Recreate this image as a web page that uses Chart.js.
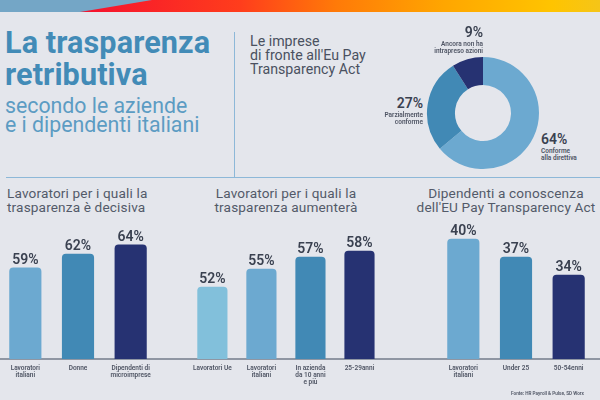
<!DOCTYPE html>
<html lang="it">
<head>
<meta charset="utf-8">
<title>La trasparenza retributiva</title>
<script src="https://cdn.jsdelivr.net/npm/chart.js@4"></script>
<style>
html, body { margin: 0; padding: 0; }
body { width: 600px; height: 400px; position: relative; overflow: hidden; background: #e4e6ec; font-family: Roboto, sans-serif; }
body > * { position: absolute; }
canvas { display: block; }
.banda { left: 0; top: 0; width: 600px; height: 12px; background: linear-gradient(90deg, #f5102f 13%, #ff3d1c 40%, #ff7a08 56%, #ffa600 74%, #ffc400 92%, #f5c518 100%); }
.bandaBlu { left: 0; top: 0; width: 152px; height: 12px; background: #74a6c6; clip-path: polygon(0 0, 100% 0, 80px 100%, 0 100%); }
.titolo { left: 5px; top: 27px; font-size: 30.6px; line-height: 32px; font-weight: 700; color: #428bb7; letter-spacing: .1px; white-space: nowrap; }
.sottotitolo { left: 5px; top: 97px; font-size: 21.3px; line-height: 18.5px; color: #5c9cc3; white-space: nowrap; }
.vert { left: 234px; top: 32px; width: 1px; height: 145px; background: #8db8d8; }
.oriz { left: 6px; top: 177px; width: 594px; height: 1px; background: #8db8d8; }
.base { left: 0; top: 358px; width: 600px; height: 2px; background: #8f96a3; }
.intro { left: 250px; top: 34px; font-size: 14.2px; line-height: 14px; color: #4a5160; white-space: nowrap; }
.testata { top: 186px; font-size: 13.6px; line-height: 14.4px; color: #535a69; letter-spacing: .15px; white-space: nowrap; }
.perc { font-size: 14px; line-height: 14px; font-weight: 600; color: #3a4150; white-space: nowrap; }
.desc { font-size: 6.5px; line-height: 7px; font-weight: 600; color: #4f5564; white-space: nowrap; }
.fonte { left: 511px; top: 390px; font-size: 4.65px; line-height: 7px; font-weight: 600; color: #4f5564; white-space: nowrap; }
</style>
</head>
<body>
<div class="banda"></div>
<div class="bandaBlu"></div>

<div class="titolo">La trasparenza<br>retributiva</div>
<div class="sottotitolo">secondo le aziende<br>e i dipendenti italiani</div>
<div class="vert"></div>
<div class="oriz"></div>
<div class="intro">Le imprese<br>di fronte all'Eu Pay<br>Transparency Act</div>

<canvas id="ciambella" width="116" height="116" style="left:425px;top:54.5px"></canvas>
<div class="perc" id="perc0" style="left:541px;top:132px"></div>
<div class="desc" style="left:541px;top:148px">Conforme<br>alla direttiva</div>
<div class="perc" id="perc1" style="right:177px;top:96px"></div>
<div class="desc" style="right:177px;top:112px;text-align:right">Parzialmente<br>conforme</div>
<div class="perc" id="perc2" style="right:117px;top:25px"></div>
<div class="desc" style="right:117px;top:41px;text-align:right">Ancora non ha<br>intrapreso azioni</div>

<div class="testata" style="left:7px">Lavoratori per i quali la<br>trasparenza è decisiva</div>
<div class="testata" style="left:186px;width:200px;text-align:center">Lavoratori per i quali la<br>trasparenza aumenterà</div>
<div class="testata" style="left:406px;width:200px;text-align:center">Dipendenti a conoscenza<br>dell'EU Pay Transparency Act</div>

<div class="base"></div>
<canvas id="barre1" width="158" height="210" style="left:-1px;top:190px"></canvas>
<canvas id="barre2" width="197" height="210" style="left:186.5px;top:190px"></canvas>
<canvas id="barre3" width="158" height="210" style="left:436.5px;top:190px"></canvas>

<div class="fonte">Fonte: HR Payroll &amp; Pulse, SD Worx</div>

<script>
// Dati
const impreseValori = [64, 27, 9];
const impreseEtichette = ['Conforme alla direttiva', 'Parzialmente conforme', 'Ancora non ha intrapreso azioni'];

const decisivaCategorie = [['Lavoratori', 'italiani'], 'Donne', ['Dipendenti di', 'microimprese']];
const decisivaValori = [59, 62, 64];

const aumenteraCategorie = ['Lavoratori Ue', ['Lavoratori', 'italiani'], ['In azienda', 'da 10 anni', 'e più'], '25-29anni'];
const aumenteraValori = [52, 55, 57, 58];

const conoscenzaCategorie = [['Lavoratori', 'italiani'], 'Under 25', '50-54enni'];
const conoscenzaValori = [40, 37, 34];

const azzurroChiaro = '#82c0db';
const azzurro = '#6ca9d0';
const blu = '#4189b5';
const bluScuro = '#263272';

// Scrive la percentuale sopra ogni barra
const etichettePercentuali = {
    id: 'etichettePercentuali',
    afterDatasetsDraw(chart) {
        const ctx = chart.ctx;
        ctx.save();
        ctx.font = '600 14px Roboto';
        ctx.fillStyle = '#3a4150';
        ctx.textAlign = 'center';
        ctx.textBaseline = 'alphabetic';
        chart.getDatasetMeta(0).data.forEach((barra, i) => {
            ctx.fillText(chart.data.datasets[0].data[i] + '%', barra.x, barra.y - 4);
        });
        ctx.restore();
    }
};

function creaBarre(id, categorie, valori, colori, minimo, massimo, spessore) {
    return new Chart(document.getElementById(id), {
        type: 'bar',
        data: {
            labels: categorie,
            datasets: [{
                data: valori,
                backgroundColor: colori,
                borderRadius: { topLeft: 4, topRight: 4 },
                borderSkipped: 'bottom',
                barThickness: spessore
            }]
        },
        options: {
            responsive: false,
            animation: false,
            layout: { padding: 0 },
            plugins: { legend: { display: false }, tooltip: { enabled: false } },
            scales: {
                y: { display: false, min: minimo, max: massimo },
                x: {
                    grid: { display: false, drawTicks: false },
                    border: { display: false },
                    afterFit: (scala) => { scala.height = 41; },
                    ticks: {
                        autoSkip: false,
                        maxRotation: 0,
                        padding: 6,
                        color: '#4f5564',
                        font: { family: 'Roboto', size: 6.5, weight: '600', lineHeight: 1.08 }
                    }
                }
            }
        },
        plugins: [etichettePercentuali]
    });
}

creaBarre('barre1', decisivaCategorie, decisivaValori, [azzurro, blu, bluScuro], 39.2, 75.9, 31.5);
creaBarre('barre2', aumenteraCategorie, aumenteraValori, [azzurroChiaro, azzurro, blu, bluScuro], 40, 68.2, 29.5);
creaBarre('barre3', conoscenzaCategorie, conoscenzaValori, [azzurro, blu, bluScuro], 20, 48.2, 31.5);

new Chart(document.getElementById('ciambella'), {
    type: 'doughnut',
    data: {
        labels: impreseEtichette,
        datasets: [{ data: impreseValori, backgroundColor: [azzurro, blu, bluScuro], borderWidth: 0 }]
    },
    options: {
        responsive: false,
        animation: false,
        cutout: '50%',
        layout: { padding: 2 },
        plugins: { legend: { display: false }, tooltip: { enabled: false } }
    }
});

impreseValori.forEach((v, i) => {
    document.getElementById('perc' + i).textContent = v + '%';
});
</script>
</body>
</html>
